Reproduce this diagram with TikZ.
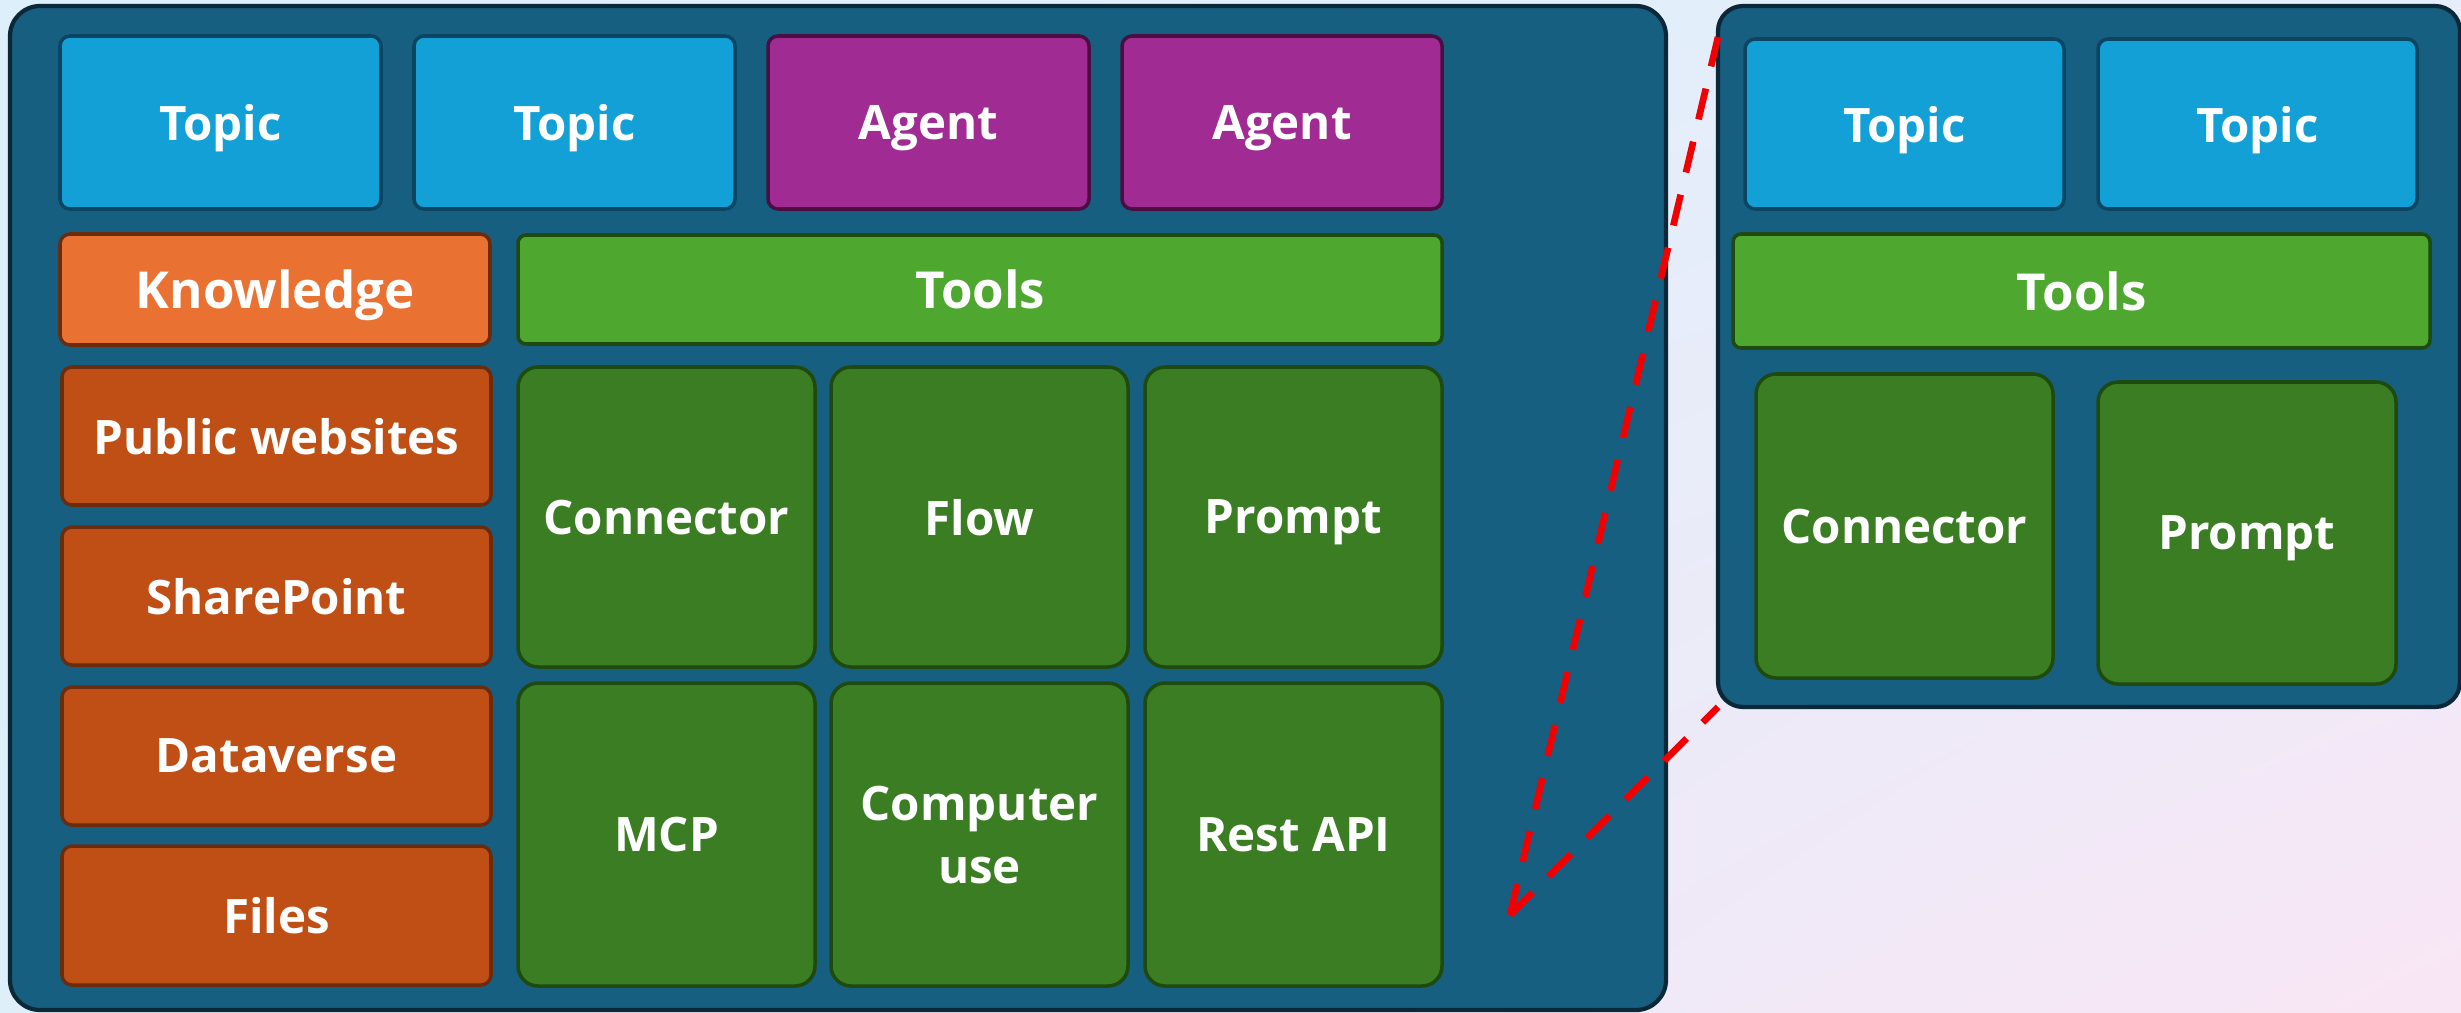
\documentclass[tikz,border=0pt]{standalone}
\usepackage{fontspec}
\setmainfont{Open Sans}
\usetikzlibrary{shadings}
\definecolor{bgA}{HTML}{DCEFFB}
\definecolor{bgB}{HTML}{DEEFFA}
\definecolor{bgC}{HTML}{E6EEFB}
\definecolor{bgD}{HTML}{F9E6F5}
\definecolor{panelfill}{HTML}{175F81}
\definecolor{paneldraw}{HTML}{0A2838}
\definecolor{topicfill}{HTML}{12A0D7}
\definecolor{topicdraw}{HTML}{0B4561}
\definecolor{agentfill}{HTML}{A02B93}
\definecolor{agentdraw}{HTML}{4A0E42}
\definecolor{knowfill}{HTML}{E97132}
\definecolor{itemfill}{HTML}{C04F15}
\definecolor{knowdraw}{HTML}{6B2C0E}
\definecolor{toolsfill}{HTML}{4EA72E}
\definecolor{tilefill}{HTML}{3B7D23}
\definecolor{greendraw}{HTML}{1E4A10}
\definecolor{dashred}{HTML}{F00000}
\newcommand\bx[7]{\node[#6, minimum width={(#4-#2)*0.01cm}, minimum height={(#5-#3)*0.01cm}] (#1) at ({(#2+#4)/2},{(#3+#5)/2}) {#7};}
\tikzset{
  base/.style={rectangle, inner sep=0pt, outer sep=0pt, line width=1pt, text=white, font=\bfseries\fontsize{13.5}{18}\selectfont, align=center, text depth=0pt},
  panel/.style={base, fill=panelfill, draw=paneldraw, line width=1.2pt, rounded corners=0.3cm},
  topicbox/.style={base, fill=topicfill, draw=topicdraw, rounded corners=0.1cm},
  agentbox/.style={base, fill=agentfill, draw=agentdraw, rounded corners=0.1cm},
  knowhead/.style={base, fill=knowfill, draw=knowdraw, rounded corners=0.1cm, font=\bfseries\fontsize{14.5}{18}\selectfont},
  knowitem/.style={base, fill=itemfill, draw=knowdraw, rounded corners=0.1cm},
  toolshead/.style={base, fill=toolsfill, draw=greendraw, rounded corners=0.08cm, font=\bfseries\fontsize{14.5}{18}\selectfont},
  tile/.style={base, fill=tilefill, draw=greendraw, rounded corners=0.2cm},
  zoomline/.style={draw=dashred, line width=1.9pt, dash pattern=on 9pt off 6.5pt}
}
\begin{document}
\begin{tikzpicture}[x=0.01cm, y=-0.01cm]
\useasboundingbox (0,0) rectangle (2461,1012);
\shade[upper left=bgA, lower left=bgB, upper right=bgC, lower right=bgD] (0,0) rectangle (2461,1012);
% main panel
\bx{mp}{10}{6}{1666}{1010}{panel}{}
\bx{t1}{60}{36}{381}{209}{topicbox}{Topic}
\bx{t2}{414}{36}{735}{209}{topicbox}{Topic}
\bx{a1}{768}{36}{1089}{209}{agentbox}{Agent}
\bx{a2}{1122}{36}{1442}{209}{agentbox}{Agent}
\bx{kn}{60}{234}{490}{345}{knowhead}{Knowledge}
\bx{k1}{62}{367}{491}{505}{knowitem}{Public websites}
\bx{k2}{62}{527}{491}{665}{knowitem}{SharePoint}
\bx{k3}{62}{687}{491}{825}{knowitem}{Dataverse}
\bx{k4}{62}{846}{491}{985}{knowitem}{Files}
\bx{tl}{518}{235}{1442}{344}{toolshead}{Tools}
\bx{g1}{518}{367}{815}{667}{tile}{Connector}
\bx{g2}{831}{367}{1128}{667}{tile}{Flow}
\bx{g3}{1145}{367}{1442}{667}{tile}{Prompt}
\bx{g4}{518}{683}{815}{986}{tile}{MCP}
\bx{g5}{831}{683}{1128}{986}{tile}{Computer\\use}
\bx{g6}{1145}{683}{1442}{986}{tile}{Rest API}
% right panel
\bx{rp}{1718}{6}{2460}{707}{panel, rounded corners=0.25cm}{}
\bx{rt1}{1745}{39}{2064}{209}{topicbox}{Topic}
\bx{rt2}{2098}{39}{2417}{209}{topicbox}{Topic}
\bx{rtl}{1733}{234}{2430}{348}{toolshead}{Tools}
\bx{rg1}{1756}{374}{2053}{678}{tile}{Connector}
\bx{rg2}{2098}{382}{2396}{684}{tile}{Prompt}
% zoom lines
\coordinate (focus) at (1510,915);
\coordinate (rtop) at (1718,37);
\draw[zoomline] (focus) -- (rtop);
\draw[zoomline] (focus) -- (rp.south west);
\end{tikzpicture}
\end{document}
